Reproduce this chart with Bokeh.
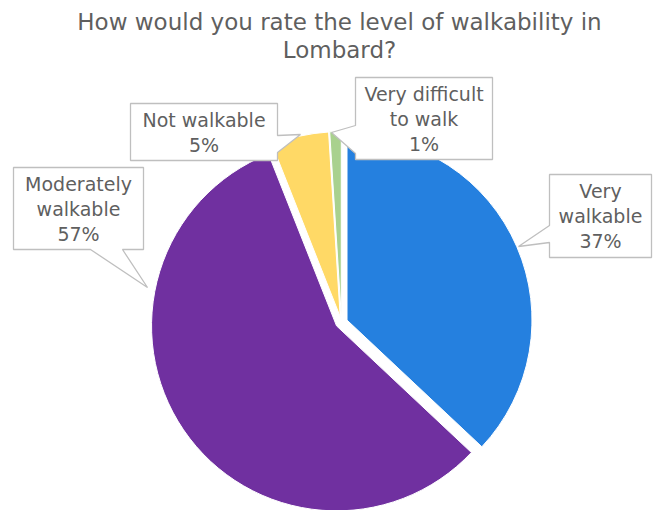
import numpy as np
from bokeh.plotting import figure
from bokeh.models import Range1d
from bokeh.core.properties import value
from bokeh.embed import file_html
from bokeh.resources import INLINE

# ---- data ----
title_lines = ["How would you rate the level of walkability in", "Lombard?"]
categories = ["Very walkable", "Moderately walkable", "Not walkable", "Very difficult to walk"]
values = [37, 57, 5, 1]
label_lines = [["Very", "walkable"], ["Moderately", "walkable"], ["Not walkable"], ["Very difficult", "to walk"]]
colors = ["#2580DF", "#7030A0", "#FFD966", "#A9D18E"]

# ---- layout (screen px, converted to data coords y = H - y_screen) ----
W, H = 653, 510
def Y(ys):
    return H - ys

cx, cy = 341, Y(322)
R = 185
explode = 6

FONT = "DejaVu Sans"
TXT = "#5F5F5F"

p = figure(width=W, height=H, output_backend="svg", toolbar_location=None,
           x_range=Range1d(0, W), y_range=Range1d(0, H),
           min_border=0)
p.axis.visible = False
p.grid.visible = False
p.outline_line_color = None
p.background_fill_color = "white"

# ---- pie ----
vals = np.array(values, dtype=float)
frac = vals / vals.sum()
cum = np.concatenate([[0], np.cumsum(frac)])
starts = np.pi / 2 - 2 * np.pi * cum[:-1]
ends = np.pi / 2 - 2 * np.pi * cum[1:]
mids = (starts + ends) / 2
xs = cx + explode * np.cos(mids)
ys = cy + explode * np.sin(mids)
p.wedge(x=xs, y=ys, radius=R, start_angle=starts, end_angle=ends, direction="clock",
        fill_color=colors, line_color="white", line_width=1)

# ---- title ----
for i, t in enumerate(title_lines):
    p.text(x=[339], y=[Y(21 + 28 * i)], text=[t], text_font=value(FONT), text_font_size="23px",
           text_color=TXT, text_align="center", text_baseline="middle")

# ---- callouts (box: left, top, right, bottom; pointer: side + base + tip) ----
boxes = [
    (549, 174, 651, 257),
    (13, 167, 143, 249),
    (130, 103, 277, 160),
    (355, 77, 492, 159),
]
pointers = [
    ("left", 225, 242, (518, 246)),
    ("bottom", 90, 122, (147, 287)),
    ("right", 135, 152, (300, 134)),
    ("left", 125, 153, (331, 132)),
]

def callout_path(box, ptr):
    l, t, r, b = box
    side, a, c, tip = ptr
    pts = [(l, t), (r, t)]
    if side == "right":
        pts += [(r, a), tip, (r, c)]
    pts.append((r, b))
    if side == "bottom":
        pts += [(c, b), tip, (a, b)]
    pts.append((l, b))
    if side == "left":
        pts += [(l, c), tip, (l, a)]
    return [q[0] for q in pts], [Y(q[1]) for q in pts]

line_h = 25
for box, ptr, lines, v in zip(boxes, pointers, label_lines, values):
    px, py = callout_path(box, ptr)
    p.patch(px, py, fill_color="white", line_color="#BFBFBF", line_width=1.3)
    all_lines = lines + [f"{v}%"]
    n = len(all_lines)
    xc = (box[0] + box[2]) / 2
    yc = (box[1] + box[3]) / 2
    for k, s in enumerate(all_lines):
        yy = yc + (k - (n - 1) / 2) * line_h
        p.text(x=[xc], y=[Y(yy)], text=[s], text_font=value(FONT), text_font_size="19px",
               text_color=TXT, text_align="center", text_baseline="middle")

open("out.html", "w").write(file_html(p, INLINE))
